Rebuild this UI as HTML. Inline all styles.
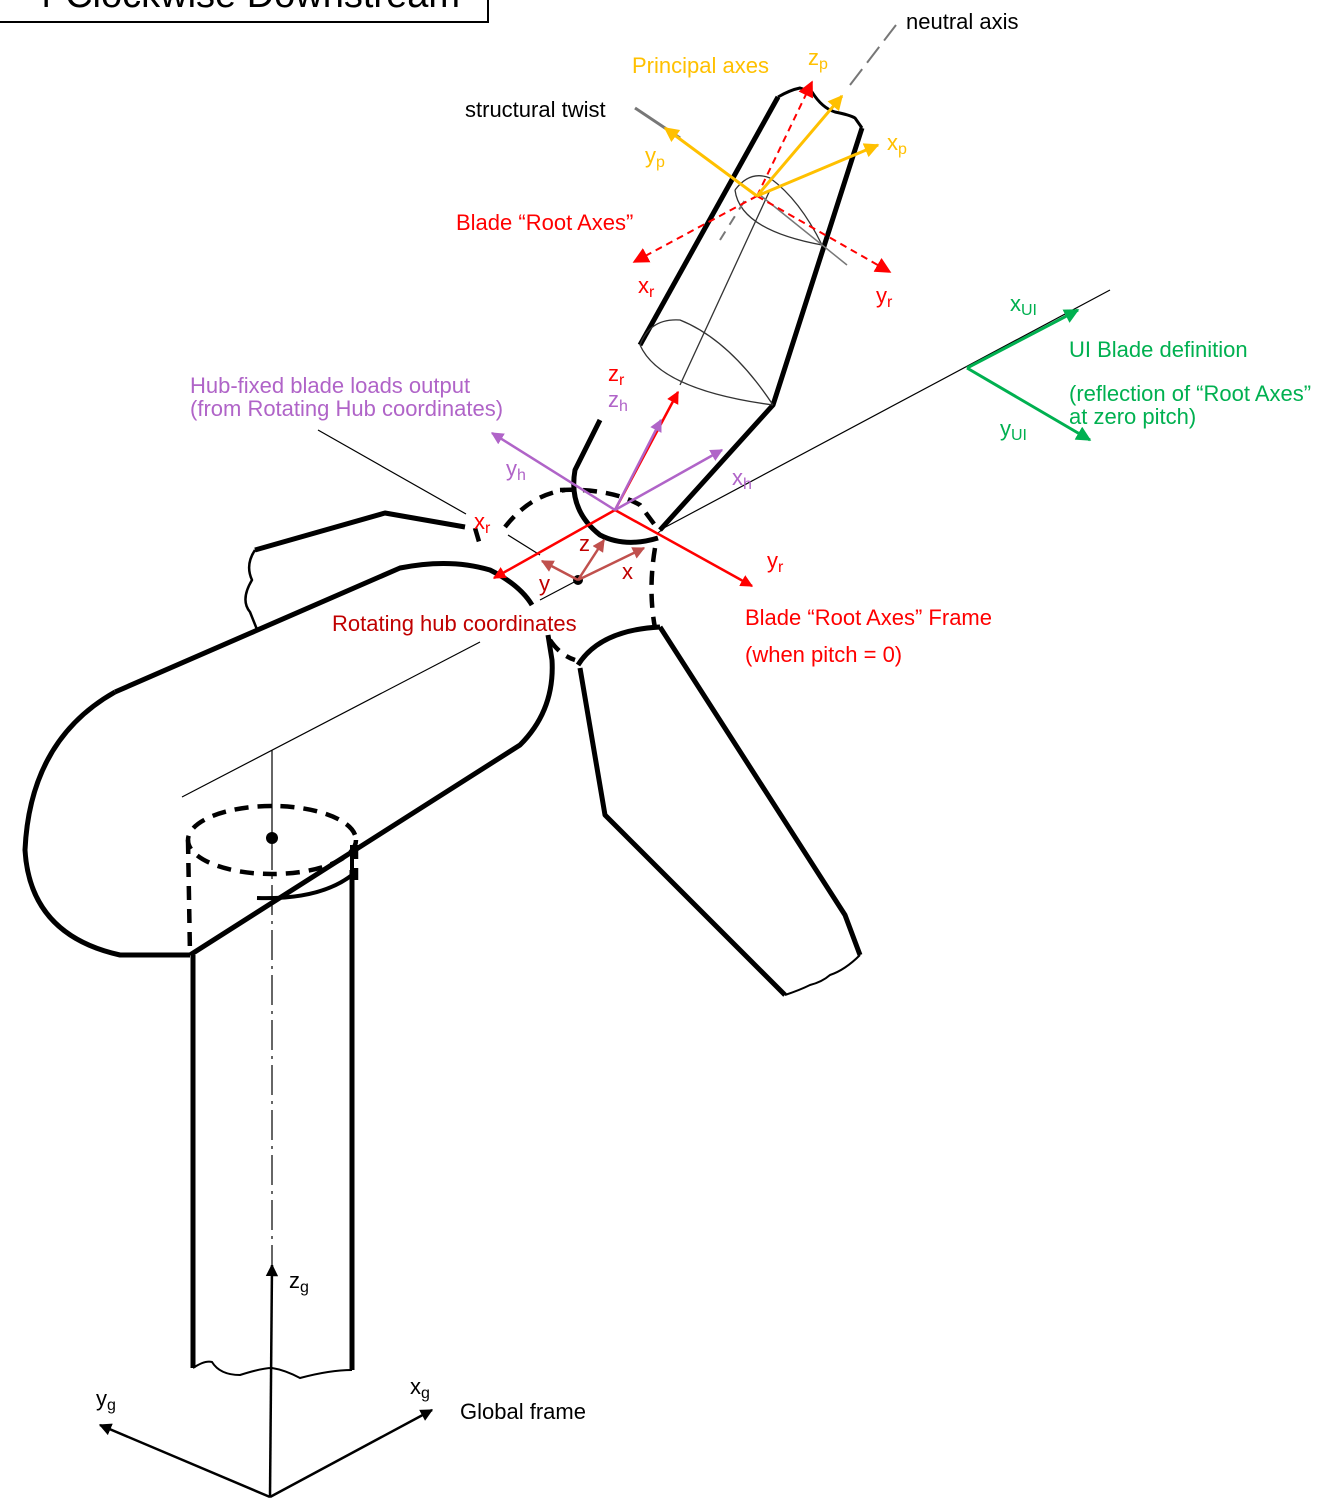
<!DOCTYPE html>
<html><head><meta charset="utf-8"><style>
html,body{margin:0;padding:0;background:#fff;}
svg{display:block;font-family:"Liberation Sans",sans-serif;}
</style></head><body>
<svg width="1335" height="1509" viewBox="0 0 1335 1509" xmlns="http://www.w3.org/2000/svg">
<defs>
<marker id="mk" viewBox="0 0 10 10" refX="9" refY="5" markerWidth="5" markerHeight="5" orient="auto-start-reverse"><path d="M0,0L10,5L0,10z" fill="#000"/></marker>
<marker id="mr" viewBox="0 0 10 10" refX="9" refY="5" markerWidth="5" markerHeight="5" orient="auto"><path d="M0,0L10,5L0,10z" fill="#f00"/></marker>
<marker id="mrd" viewBox="0 0 10 10" refX="9" refY="5" markerWidth="8" markerHeight="8" orient="auto"><path d="M0,0L10,5L0,10z" fill="#f00"/></marker>
<marker id="mp" viewBox="0 0 10 10" refX="9" refY="5" markerWidth="5" markerHeight="5" orient="auto"><path d="M0,0L10,5L0,10z" fill="#b064c8"/></marker>
<marker id="my" viewBox="0 0 10 10" refX="9" refY="5" markerWidth="5" markerHeight="5" orient="auto"><path d="M0,0L10,5L0,10z" fill="#ffc000"/></marker>
<marker id="mg" viewBox="0 0 10 10" refX="9" refY="5" markerWidth="5" markerHeight="5" orient="auto"><path d="M0,0L10,5L0,10z" fill="#00b050"/></marker>
<marker id="mb" viewBox="0 0 10 10" refX="9" refY="5" markerWidth="5" markerHeight="5" orient="auto"><path d="M0,0L10,5L0,10z" fill="#c0504d"/></marker>
</defs>

<!-- title box -->
<rect x="-5" y="-5" width="493" height="27" fill="#fff" stroke="#000" stroke-width="2"/>
<text x="460" y="7" font-size="38" fill="#000" text-anchor="end">r Clockwise Downstream</text>

<!-- thin lines -->
<g stroke="#000" stroke-width="1.2" fill="none">
<line x1="660" y1="530" x2="1110" y2="290"/>
<line x1="182" y1="797" x2="480" y2="642"/>
<line x1="318" y1="430" x2="466" y2="514"/>
<line x1="508" y1="535" x2="540" y2="555"/>
<line x1="540" y1="600" x2="578" y2="580"/>
<line x1="272" y1="750" x2="272" y2="835"/>
<line x1="272" y1="840" x2="272" y2="1270" stroke-dasharray="30,6,3,6"/>
</g>

<!-- thick outlines -->
<g stroke="#000" stroke-width="5" fill="none" stroke-linejoin="round">
<path d="M778,97 L640,345"/>
<path d="M862,128 L773,405 L660,530"/>
<path d="M778,97 Q790,90 800,88 L812,92 Q822,108 835,112 Q850,115 855,118 L862,128" stroke-width="3"/>
<path d="M600,420 L575,470 Q568,510 600,535 Q625,548 658,538"/>
<path d="M255,550 L385,513 L465,527"/>
<path d="M255,550 Q245,565 252,580 Q240,600 250,612 L258,632" stroke-width="2.5"/>
<path d="M115,692 L400,568 Q450,558 490,570 Q520,585 532,605"/>
<path d="M115,692 Q30,740 25,850 Q30,935 120,955 L190,955"/>
<path d="M190,955 L520,745 Q555,710 552,660 L548,635"/>
<path d="M193,955 L193,1368"/>
<path d="M352,870 L352,1370"/>
<path d="M257,898 Q320,900 352,875 L352,845" stroke-width="4"/>
<path d="M578,665 Q600,630 660,627"/>
<path d="M580,668 L605,815 L785,995"/>
<path d="M660,627 L845,915 L860,955"/>
</g>
<g stroke="#000" stroke-width="2" fill="none">
<path d="M785,995 Q800,990 810,985 Q822,982 830,975 Q845,970 860,955"/>
<path d="M193,1368 Q205,1360 212,1362 Q220,1375 240,1375 Q262,1368 272,1368 Q285,1370 300,1378 Q330,1370 352,1370"/>
</g>
<g stroke="#000" stroke-width="4.5" fill="none" stroke-dasharray="14,9">
<path d="M505,527 Q530,495 565,490"/>
<path d="M560,490 Q610,488 640,505 L660,532"/>
<path d="M655,548 Q648,590 655,628"/>
<path d="M475,528 L480,545"/>
<path d="M550,640 Q560,655 575,660"/>
<ellipse cx="272" cy="840" rx="84" ry="34"/>
<path d="M188,840 L190,955"/>
<path d="M356,845 L356,880"/>
</g>
<circle cx="272" cy="838" r="6" fill="#000"/>

<g stroke="#333" stroke-width="1.3" fill="none">
<path d="M640,345 Q650,318 680,320 Q730,340 773,405"/>
<path d="M640,345 Q660,390 773,405"/>
<path d="M735,190 Q750,170 770,178 Q800,200 822,245"/>
<path d="M735,190 Q740,230 822,245"/>
<line x1="680" y1="385" x2="770" y2="190"/>
<line x1="635" y1="108" x2="680" y2="138" stroke="#777" stroke-width="3"/>
<line x1="760" y1="195" x2="847" y2="265" stroke="#777" stroke-width="1.5"/>
<line x1="720" y1="240" x2="745" y2="200" stroke="#777" stroke-width="2" stroke-dasharray="10,8"/>
<line x1="850" y1="85" x2="896" y2="25" stroke="#777" stroke-width="2" stroke-dasharray="20,8"/>
</g>

<g stroke="#f00" stroke-width="2" fill="none" stroke-dasharray="7,5">
<line x1="757" y1="196" x2="812" y2="82" marker-end="url(#mrd)"/>
<line x1="757" y1="196" x2="634" y2="262" marker-end="url(#mrd)"/>
<line x1="757" y1="196" x2="890" y2="272" marker-end="url(#mrd)"/>
</g>
<g stroke="#ffc000" stroke-width="3" fill="none">
<line x1="757" y1="196" x2="665" y2="128" marker-end="url(#my)"/>
<line x1="757" y1="196" x2="842" y2="96" marker-end="url(#my)"/>
<line x1="757" y1="196" x2="878" y2="145" marker-end="url(#my)"/>
</g>
<g stroke="#f00" stroke-width="2.5" fill="none">
<line x1="615" y1="510" x2="494" y2="578" marker-end="url(#mr)"/>
<line x1="615" y1="510" x2="752" y2="586" marker-end="url(#mr)"/>
<line x1="615" y1="510" x2="678" y2="392" marker-end="url(#mr)"/>
</g>
<g stroke="#b064c8" stroke-width="2.5" fill="none">
<line x1="615" y1="510" x2="492" y2="433" marker-end="url(#mp)"/>
<line x1="615" y1="510" x2="722" y2="450" marker-end="url(#mp)"/>
<line x1="615" y1="510" x2="661" y2="420" marker-end="url(#mp)"/>
</g>
<circle cx="578" cy="580" r="5" fill="#000"/>
<g stroke="#c0504d" stroke-width="2.5" fill="none">
<line x1="578" y1="580" x2="604" y2="540" marker-end="url(#mb)"/>
<line x1="578" y1="580" x2="542" y2="561" marker-end="url(#mb)"/>
<line x1="578" y1="580" x2="644" y2="548" marker-end="url(#mb)"/>
</g>
<g stroke="#00b050" stroke-width="3" fill="none">
<line x1="967" y1="368" x2="1078" y2="310" marker-end="url(#mg)"/>
<line x1="967" y1="368" x2="1090" y2="440" marker-end="url(#mg)"/>
</g>
<g stroke="#000" stroke-width="2.5" fill="none">
<line x1="270" y1="1497" x2="272" y2="1265" marker-end="url(#mk)"/>
<line x1="270" y1="1497" x2="100" y2="1425" marker-end="url(#mk)"/>
<line x1="270" y1="1497" x2="432" y2="1410" marker-end="url(#mk)"/>
</g>

<g font-size="22">
<text x="906" y="29" fill="#000">neutral axis</text>
<text x="465" y="117" fill="#000">structural twist</text>
<text x="632" y="73" fill="#ffc000">Principal axes</text>
<text x="808" y="65" fill="#ffc000">z<tspan font-size="16" dy="4">p</tspan></text>
<text x="645" y="163" fill="#ffc000">y<tspan font-size="16" dy="4">p</tspan></text>
<text x="887" y="150" fill="#ffc000">x<tspan font-size="16" dy="4">p</tspan></text>
<text x="456" y="230" fill="#f00">Blade “Root Axes”</text>
<text x="638" y="293" fill="#f00">x<tspan font-size="16" dy="4">r</tspan></text>
<text x="876" y="303" fill="#f00">y<tspan font-size="16" dy="4">r</tspan></text>
<text x="608" y="381" fill="#f00">z<tspan font-size="16" dy="4">r</tspan></text>
<text x="608" y="407" fill="#b064c8">z<tspan font-size="16" dy="4">h</tspan></text>
<text x="190" y="393" fill="#b064c8">Hub-fixed blade loads output</text>
<text x="190" y="416" fill="#b064c8">(from Rotating Hub coordinates)</text>
<text x="506" y="476" fill="#b064c8">y<tspan font-size="16" dy="4">h</tspan></text>
<text x="732" y="485" fill="#b064c8">x<tspan font-size="16" dy="4">h</tspan></text>
<text x="474" y="529" fill="#f00">x<tspan font-size="16" dy="4">r</tspan></text>
<text x="767" y="568" fill="#f00">y<tspan font-size="16" dy="4">r</tspan></text>
<text x="579" y="551" fill="#c00000">z</text>
<text x="539" y="591" fill="#c00000">y</text>
<text x="622" y="579" fill="#c00000">x</text>
<text x="332" y="631" fill="#c00000">Rotating hub coordinates</text>
<text x="745" y="625" fill="#f00">Blade “Root Axes” Frame</text>
<text x="745" y="662" fill="#f00">(when pitch = 0)</text>
<text x="1010" y="311" fill="#00b050">x<tspan font-size="16" dy="4">UI</tspan></text>
<text x="1000" y="436" fill="#00b050">y<tspan font-size="16" dy="4">UI</tspan></text>
<text x="1069" y="357" fill="#00b050">UI Blade definition</text>
<text x="1069" y="401" fill="#00b050">(reflection of “Root Axes”</text>
<text x="1069" y="424" fill="#00b050">at zero pitch)</text>
<text x="289" y="1288" fill="#000">z<tspan font-size="16" dy="4">g</tspan></text>
<text x="96" y="1406" fill="#000">y<tspan font-size="16" dy="4">g</tspan></text>
<text x="410" y="1394" fill="#000">x<tspan font-size="16" dy="4">g</tspan></text>
<text x="460" y="1419" fill="#000">Global frame</text>
</g>
</svg>
</body></html>
